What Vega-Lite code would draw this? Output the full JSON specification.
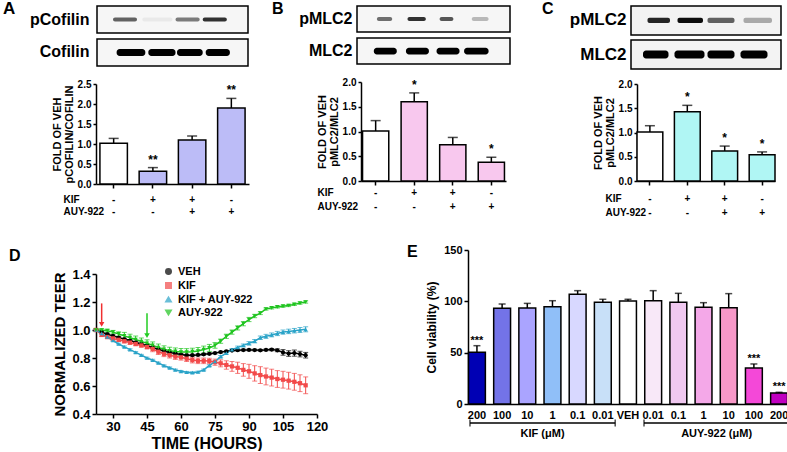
{
"$schema": "https://vega.github.io/schema/vega-lite/v6.json",
"padding": {"left": 3, "top": 0, "right": 0, "bottom": 0},
"background": "white",
"config": {
  "font": "Liberation Sans",
  "view": {"stroke": null},
  "axis": {"labelFontWeight": "bold", "titleFontWeight": "bold", "labelColor": "black", "titleColor": "black", "domainColor": "black", "tickColor": "black", "grid": false, "domainWidth": 1.5, "tickWidth": 1.5, "labelOverlap": false},
  "title": {"fontWeight": "bold", "color": "black", "anchor": "start", "frame": "group", "offset": 0, "fontSize": 16},
  "text": {"font": "Liberation Sans", "fontWeight": "bold", "color": "black"},
  "legend": {"labelFontSize": 11, "labelFontWeight": "bold", "labelColor": "black", "symbolSize": 30, "rowPadding": 1, "labelOffset": 4}
},
"resolve": {"scale": {"fill": "independent", "color": "independent", "shape": "independent"}, "legend": {"color": "independent", "shape": "independent", "fill": "independent"}},
"spacing": 27,
"vconcat": [
 {"spacing": 23,
  "resolve": {"scale": {"fill": "independent", "color": "independent", "shape": "independent"}, "legend": {"color": "independent", "shape": "independent", "fill": "independent"}},
  "hconcat": [
  {"vconcat": [
    {"width": 151, "height": 60,
     "title": {"text": "A", "dx": -94, "dy": 17, "fontSize": 17},
     "data": {"values": [
       {"protein": "pCofilin", "kind": "p", "from": 10.6, "to": 26.5, "intensity": 0.6},
       {"protein": "pCofilin", "kind": "p", "from": 30, "to": 50, "intensity": 0.05},
       {"protein": "pCofilin", "kind": "p", "from": 52, "to": 68, "intensity": 0.5},
       {"protein": "pCofilin", "kind": "p", "from": 70, "to": 86, "intensity": 0.8},
       {"protein": "Cofilin", "kind": "t", "from": 13, "to": 32, "intensity": 1},
       {"protein": "Cofilin", "kind": "t", "from": 34, "to": 52, "intensity": 1},
       {"protein": "Cofilin", "kind": "t", "from": 53, "to": 70, "intensity": 1},
       {"protein": "Cofilin", "kind": "t", "from": 72, "to": 88, "intensity": 1}
     ]},
     "encoding": {"y": {"field": "protein", "type": "nominal", "sort": ["pCofilin", "Cofilin"], "scale": {"paddingInner": 0.18, "paddingOuter": 0}, "axis": {"title": null, "domain": false, "ticks": false, "labelFontSize": 16, "labelPadding": 8}}},
     "layer": [
       {"data": {"values": [{"protein": "pCofilin"}, {"protein": "Cofilin"}]},
        "mark": {"type": "bar", "fill": "#f6f6f6", "stroke": "black", "strokeWidth": 1.5},
        "encoding": {
          "x": {"datum": 0, "type": "quantitative", "scale": {"domain": [0, 100], "nice": false}, "axis": null},
          "x2": {"datum": 100}}},
       {"transform": [{"filter": "datum.kind == 'p'"}],
        "mark": {"type": "bar", "color": "black", "height": {"band": 0.15}, "cornerRadius": 2},
        "encoding": {"x": {"field": "from", "type": "quantitative", "axis": null}, "x2": {"field": "to"}, "opacity": {"field": "intensity", "type": "quantitative", "scale": null}}},
       {"transform": [{"filter": "datum.kind == 't'"}],
        "mark": {"type": "bar", "color": "black", "height": {"band": 0.26}, "cornerRadius": 3},
        "encoding": {"x": {"field": "from", "type": "quantitative", "axis": null}, "x2": {"field": "to"}, "opacity": {"field": "intensity", "type": "quantitative", "scale": null}}}
     ]},
    {"width": 153, "height": 100,
     "data": {"values": [
       {"grp": "VEH", "v": 1.02, "hi": 1.14, "sig": ""},
       {"grp": "KIF", "v": 0.32, "hi": 0.41, "sig": "**"},
       {"grp": "KIF + AUY-922", "v": 1.1, "hi": 1.2, "sig": ""},
       {"grp": "AUY-922", "v": 1.9, "hi": 2.14, "sig": "**"}
     ]},
     "encoding": {"x": {"field": "grp", "type": "nominal", "sort": null, "scale": {"paddingInner": 0.3, "paddingOuter": 0.1},
        "axis": {"title": ["KIF", "AUY-922"], "titleFontSize": 10, "titleLineHeight": 12, "titleAlign": "left", "titleBaseline": "top", "titleX": -33, "titleY": 10,
                 "labelExpr": "datum.value == 'VEH' ? ['-', '-'] : datum.value == 'KIF' ? ['+', '-'] : datum.value == 'KIF + AUY-922' ? ['+', '+'] : ['-', '+']",
                 "labelAngle": 0, "labelFontSize": 10, "labelLineHeight": 12, "labelBaseline": "top", "labelPadding": 6, "tickSize": 4}},
        "y": {"field": "v", "type": "quantitative", "scale": {"domain": [0, 2.5]}, "axis": {"values": [0, 0.5, 1, 1.5, 2, 2.5], "format": ".1f", "labelFontSize": 10, "tickSize": 3, "labelPadding": 2, "title": ["FOLD OF VEH", "pCOFILIN/COFILIN"], "titleFontSize": 11, "titleLineHeight": 12, "titlePadding": 3}}},
     "layer": [
       {"mark": {"type": "bar", "stroke": "black", "strokeWidth": 1.5},
        "encoding": {"fill": {"field": "grp", "type": "nominal", "sort": null, "scale": {"range": ["#ffffff", "#bcbcf7", "#bcbcf7", "#bcbcf7"]}, "legend": null}}},
       {"mark": {"type": "rule", "strokeWidth": 1.5, "color": "black"}, "encoding": {"y2": {"field": "hi"}}},
       {"mark": {"type": "tick", "color": "black", "thickness": 1.5, "size": 10, "orient": "horizontal"}, "encoding": {"y": {"field": "hi", "type": "quantitative", "axis": {"values": [0, 0.5, 1, 1.5, 2, 2.5], "format": ".1f", "labelFontSize": 10, "tickSize": 3, "labelPadding": 2, "title": ["FOLD OF VEH", "pCOFILIN/COFILIN"], "titleFontSize": 11, "titleLineHeight": 12, "titlePadding": 3}}}},
       {"mark": {"type": "text", "fontSize": 12, "dy": -4, "baseline": "alphabetic"}, "encoding": {"y": {"field": "hi", "type": "quantitative", "axis": {"values": [0, 0.5, 1, 1.5, 2, 2.5], "format": ".1f", "labelFontSize": 10, "tickSize": 3, "labelPadding": 2, "title": ["FOLD OF VEH", "pCOFILIN/COFILIN"], "titleFontSize": 11, "titleLineHeight": 12, "titlePadding": 3}}, "text": {"field": "sig"}}}
     ]}
  ], "spacing": 18, "bounds": "flush", "center": true,
     "resolve": {"scale": {"fill": "independent"}}},
  {"spacing": 31,
   "resolve": {"scale": {"fill": "independent"}, "legend": {"fill": "independent"}},
   "hconcat": [
   {"vconcat": [
    {"width": 153, "height": 58,
     "title": {"text": "B", "dx": -85, "dy": 16},
     "data": {"values": [
       {"protein": "pMLC2", "kind": "p", "from": 13, "to": 23, "intensity": 0.55},
       {"protein": "pMLC2", "kind": "p", "from": 33, "to": 45, "intensity": 0.8},
       {"protein": "pMLC2", "kind": "p", "from": 54, "to": 63, "intensity": 0.65},
       {"protein": "pMLC2", "kind": "p", "from": 75, "to": 86, "intensity": 0.25},
       {"protein": "MLC2", "kind": "t", "from": 11, "to": 26, "intensity": 1},
       {"protein": "MLC2", "kind": "t", "from": 32, "to": 47, "intensity": 1},
       {"protein": "MLC2", "kind": "t", "from": 52, "to": 67, "intensity": 1},
       {"protein": "MLC2", "kind": "t", "from": 70, "to": 86, "intensity": 1}
     ]},
     "encoding": {"y": {"field": "protein", "type": "nominal", "sort": ["pMLC2", "MLC2"], "scale": {"paddingInner": 0.19, "paddingOuter": 0}, "axis": {"title": null, "domain": false, "ticks": false, "labelFontSize": 16, "labelPadding": 5}}},
     "layer": [
       {"data": {"values": [{"protein": "pMLC2"}, {"protein": "MLC2"}]},
        "mark": {"type": "bar", "fill": "#f6f6f6", "stroke": "black", "strokeWidth": 1.5},
        "encoding": {
          "x": {"datum": 0, "type": "quantitative", "scale": {"domain": [0, 100], "nice": false}, "axis": null},
          "x2": {"datum": 100}}},
       {"transform": [{"filter": "datum.kind == 'p'"}],
        "mark": {"type": "bar", "color": "black", "height": {"band": 0.15}, "cornerRadius": 2},
        "encoding": {"x": {"field": "from", "type": "quantitative", "axis": null}, "x2": {"field": "to"}, "opacity": {"field": "intensity", "type": "quantitative", "scale": null}}},
       {"transform": [{"filter": "datum.kind == 't'"}],
        "mark": {"type": "bar", "color": "black", "height": {"band": 0.26}, "cornerRadius": 3},
        "encoding": {"x": {"field": "from", "type": "quantitative", "axis": null}, "x2": {"field": "to"}, "opacity": {"field": "intensity", "type": "quantitative", "scale": null}}}
     ]},
    {"width": 145, "height": 99,
     "data": {"values": [
       {"grp": "VEH", "v": 1.01, "hi": 1.22, "sig": ""},
       {"grp": "KIF", "v": 1.6, "hi": 1.78, "sig": "*"},
       {"grp": "KIF + AUY-922", "v": 0.73, "hi": 0.88, "sig": ""},
       {"grp": "AUY-922", "v": 0.38, "hi": 0.48, "sig": "*"}
     ]},
     "encoding": {"x": {"field": "grp", "type": "nominal", "sort": null, "scale": {"paddingInner": 0.32, "paddingOuter": 0.04},
        "axis": {"title": ["KIF", "AUY-922"], "titleFontSize": 10, "titleLineHeight": 14, "titleAlign": "left", "titleBaseline": "top", "titleX": -44, "titleY": 6,
                 "labelExpr": "datum.value == 'VEH' ? ['-', '-'] : datum.value == 'KIF' ? ['+', '-'] : datum.value == 'KIF + AUY-922' ? ['+', '+'] : ['-', '+']",
                 "labelAngle": 0, "labelFontSize": 10, "labelLineHeight": 14, "labelBaseline": "top", "labelPadding": 2, "tickSize": 4}},
        "y": {"field": "v", "type": "quantitative", "scale": {"domain": [0, 2]}, "axis": {"values": [0, 0.5, 1, 1.5, 2], "format": ".1f", "labelFontSize": 10, "tickSize": 3, "labelPadding": 2, "title": ["FOLD OF VEH", "pMLC2/MLC2"], "titleFontSize": 11, "titleLineHeight": 12, "titlePadding": 3}}},
     "layer": [
       {"mark": {"type": "bar", "stroke": "black", "strokeWidth": 1.5},
        "encoding": {"fill": {"field": "grp", "type": "nominal", "sort": null, "scale": {"range": ["#ffffff", "#f8c8ee", "#f8c8ee", "#f8c8ee"]}, "legend": null}}},
       {"mark": {"type": "rule", "strokeWidth": 1.5, "color": "black"}, "encoding": {"y2": {"field": "hi"}}},
       {"mark": {"type": "tick", "color": "black", "thickness": 1.5, "size": 10, "orient": "horizontal"}, "encoding": {"y": {"field": "hi", "type": "quantitative", "axis": {"values": [0, 0.5, 1, 1.5, 2], "format": ".1f", "labelFontSize": 10, "tickSize": 3, "labelPadding": 2, "title": ["FOLD OF VEH", "pMLC2/MLC2"], "titleFontSize": 11, "titleLineHeight": 12, "titlePadding": 3}}}},
       {"mark": {"type": "text", "fontSize": 12, "dy": -4, "baseline": "alphabetic"}, "encoding": {"y": {"field": "hi", "type": "quantitative", "axis": {"values": [0, 0.5, 1, 1.5, 2], "format": ".1f", "labelFontSize": 10, "tickSize": 3, "labelPadding": 2, "title": ["FOLD OF VEH", "pMLC2/MLC2"], "titleFontSize": 11, "titleLineHeight": 12, "titlePadding": 3}}, "text": {"field": "sig"}}}
     ]}
   ], "spacing": 18, "bounds": "flush", "center": true,
      "resolve": {"scale": {"fill": "independent"}}},
   {"vconcat": [
    {"width": 150, "height": 63,
     "title": {"text": "C", "dx": -89, "dy": 16},
     "data": {"values": [
       {"protein": "pMLC2", "kind": "p", "from": 11, "to": 26, "intensity": 0.85},
       {"protein": "pMLC2", "kind": "p", "from": 31, "to": 48, "intensity": 0.95},
       {"protein": "pMLC2", "kind": "p", "from": 51, "to": 69, "intensity": 0.6},
       {"protein": "pMLC2", "kind": "p", "from": 75, "to": 94, "intensity": 0.3},
       {"protein": "MLC2", "kind": "t", "from": 8, "to": 25, "intensity": 1},
       {"protein": "MLC2", "kind": "t", "from": 29, "to": 49, "intensity": 1},
       {"protein": "MLC2", "kind": "t", "from": 51, "to": 69, "intensity": 1},
       {"protein": "MLC2", "kind": "t", "from": 73, "to": 91, "intensity": 1}
     ]},
     "encoding": {"y": {"field": "protein", "type": "nominal", "sort": ["pMLC2", "MLC2"], "scale": {"paddingInner": 0.15, "paddingOuter": 0}, "axis": {"title": null, "domain": false, "ticks": false, "labelFontSize": 17, "labelPadding": 5}}},
     "layer": [
       {"data": {"values": [{"protein": "pMLC2"}, {"protein": "MLC2"}]},
        "mark": {"type": "bar", "fill": "#f3f3f3", "stroke": "black", "strokeWidth": 1.5},
        "encoding": {
          "x": {"datum": 0, "type": "quantitative", "scale": {"domain": [0, 100], "nice": false}, "axis": null},
          "x2": {"datum": 100}}},
       {"transform": [{"filter": "datum.kind == 'p'"}],
        "mark": {"type": "bar", "color": "black", "height": {"band": 0.18}, "cornerRadius": 2},
        "encoding": {"x": {"field": "from", "type": "quantitative", "axis": null}, "x2": {"field": "to"}, "opacity": {"field": "intensity", "type": "quantitative", "scale": null}}},
       {"transform": [{"filter": "datum.kind == 't'"}],
        "mark": {"type": "bar", "color": "black", "height": {"band": 0.27}, "cornerRadius": 3},
        "encoding": {"x": {"field": "from", "type": "quantitative", "axis": null}, "x2": {"field": "to"}, "opacity": {"field": "intensity", "type": "quantitative", "scale": null}}}
     ]},
    {"width": 138, "height": 97,
     "data": {"values": [
       {"grp": "VEH", "v": 1.01, "hi": 1.14, "sig": ""},
       {"grp": "KIF", "v": 1.43, "hi": 1.56, "sig": "*"},
       {"grp": "KIF + AUY-922", "v": 0.62, "hi": 0.72, "sig": "*"},
       {"grp": "AUY-922", "v": 0.54, "hi": 0.6, "sig": "*"}
     ]},
     "encoding": {"x": {"field": "grp", "type": "nominal", "sort": null, "scale": {"paddingInner": 0.31, "paddingOuter": 0},
        "axis": {"title": ["KIF", "AUY-922"], "titleFontSize": 10, "titleLineHeight": 14, "titleAlign": "left", "titleBaseline": "top", "titleX": -32, "titleY": 12,
                 "labelExpr": "datum.value == 'VEH' ? ['-', '-'] : datum.value == 'KIF' ? ['+', '-'] : datum.value == 'KIF + AUY-922' ? ['+', '+'] : ['-', '+']",
                 "labelAngle": 0, "labelFontSize": 10, "labelLineHeight": 14, "labelBaseline": "top", "labelPadding": 8, "tickSize": 4}},
        "y": {"field": "v", "type": "quantitative", "scale": {"domain": [0, 2]}, "axis": {"values": [0, 0.5, 1, 1.5, 2], "format": ".1f", "labelFontSize": 10, "tickSize": 3, "labelPadding": 2, "title": ["FOLD OF VEH", "pMLC2/MLC2"], "titleFontSize": 11, "titleLineHeight": 12, "titlePadding": 3}}},
     "layer": [
       {"mark": {"type": "bar", "stroke": "black", "strokeWidth": 1.5},
        "encoding": {"fill": {"field": "grp", "type": "nominal", "sort": null, "scale": {"range": ["#ffffff", "#b0f6f4", "#b0f6f4", "#b0f6f4"]}, "legend": null}}},
       {"mark": {"type": "rule", "strokeWidth": 1.5, "color": "black"}, "encoding": {"y2": {"field": "hi"}}},
       {"mark": {"type": "tick", "color": "black", "thickness": 1.5, "size": 10, "orient": "horizontal"}, "encoding": {"y": {"field": "hi", "type": "quantitative", "axis": {"values": [0, 0.5, 1, 1.5, 2], "format": ".1f", "labelFontSize": 10, "tickSize": 3, "labelPadding": 2, "title": ["FOLD OF VEH", "pMLC2/MLC2"], "titleFontSize": 11, "titleLineHeight": 12, "titlePadding": 3}}}},
       {"mark": {"type": "text", "fontSize": 12, "dy": -4, "baseline": "alphabetic"}, "encoding": {"y": {"field": "hi", "type": "quantitative", "axis": {"values": [0, 0.5, 1, 1.5, 2], "format": ".1f", "labelFontSize": 10, "tickSize": 3, "labelPadding": 2, "title": ["FOLD OF VEH", "pMLC2/MLC2"], "titleFontSize": 11, "titleLineHeight": 12, "titlePadding": 3}}, "text": {"field": "sig"}}}
     ]}
   ], "spacing": 15, "bounds": "flush", "center": true,
      "resolve": {"scale": {"fill": "independent"}}}
  ]}
 ]},
 {"spacing": 79,
  "resolve": {"scale": {"fill": "independent", "color": "independent", "shape": "independent"}, "legend": {"color": "independent", "shape": "independent", "fill": "independent"}},
  "hconcat": [
  {"vconcat": [
   {"width": 221, "height": 1, "data": {"values": []}, "mark": "point", "encoding": {}},
   {"width": 221, "height": 140,
   "title": {"text": "D", "dx": -87, "dy": 2},
   "encoding": {"x": {"field": "t", "type": "quantitative", "scale": {"domain": [22.5, 120], "nice": false, "zero": false},
      "axis": {"values": [30, 45, 60, 75, 90, 105, 120], "labelFlush": false, "title": "TIME (HOURS)", "titleFontSize": 16, "labelFontSize": 13, "tickSize": 4, "labelPadding": 2, "titlePadding": 2}}},
   "layer": [
    {"data": {"values": [
{"s":"VEH","t":22.5,"v":1.0,"e":0.006},{"s":"VEH","t":25,"v":0.985,"e":0.006},{"s":"VEH","t":27.5,"v":0.97,"e":0.006},{"s":"VEH","t":30,"v":0.958,"e":0.006},{"s":"VEH","t":32.5,"v":0.946,"e":0.006},{"s":"VEH","t":35,"v":0.935,"e":0.006},{"s":"VEH","t":37.5,"v":0.925,"e":0.006},{"s":"VEH","t":40,"v":0.912,"e":0.006},{"s":"VEH","t":42.5,"v":0.9,"e":0.006},{"s":"VEH","t":45,"v":0.888,"e":0.006},{"s":"VEH","t":47.5,"v":0.875,"e":0.006},{"s":"VEH","t":50,"v":0.862,"e":0.006},{"s":"VEH","t":52.5,"v":0.85,"e":0.006},{"s":"VEH","t":55,"v":0.84,"e":0.006},{"s":"VEH","t":57.5,"v":0.832,"e":0.006},{"s":"VEH","t":60,"v":0.825,"e":0.006},{"s":"VEH","t":62.5,"v":0.82,"e":0.006},{"s":"VEH","t":65,"v":0.82,"e":0.006},{"s":"VEH","t":67.5,"v":0.822,"e":0.006},{"s":"VEH","t":70,"v":0.826,"e":0.006},{"s":"VEH","t":72.5,"v":0.83,"e":0.006},{"s":"VEH","t":75,"v":0.835,"e":0.006},{"s":"VEH","t":77.5,"v":0.842,"e":0.006},{"s":"VEH","t":80,"v":0.848,"e":0.006},{"s":"VEH","t":82.5,"v":0.853,"e":0.006},{"s":"VEH","t":85,"v":0.856,"e":0.006},{"s":"VEH","t":87.5,"v":0.857,"e":0.006},{"s":"VEH","t":90,"v":0.858,"e":0.006},{"s":"VEH","t":92.5,"v":0.857,"e":0.006},{"s":"VEH","t":95,"v":0.855,"e":0.006},{"s":"VEH","t":97.5,"v":0.858,"e":0.006},{"s":"VEH","t":100,"v":0.86,"e":0.008},{"s":"VEH","t":102.5,"v":0.855,"e":0.01},{"s":"VEH","t":105,"v":0.84,"e":0.02},{"s":"VEH","t":107.5,"v":0.832,"e":0.02},{"s":"VEH","t":110,"v":0.835,"e":0.022},{"s":"VEH","t":112.5,"v":0.828,"e":0.02},{"s":"VEH","t":115,"v":0.82,"e":0.02},
{"s":"KIF","t":22.5,"v":1.0,"e":0.012},{"s":"KIF","t":25,"v":0.965,"e":0.012},{"s":"KIF","t":27.5,"v":0.95,"e":0.012},{"s":"KIF","t":30,"v":0.94,"e":0.012},{"s":"KIF","t":32.5,"v":0.93,"e":0.012},{"s":"KIF","t":35,"v":0.92,"e":0.012},{"s":"KIF","t":37.5,"v":0.91,"e":0.012},{"s":"KIF","t":40,"v":0.9,"e":0.012},{"s":"KIF","t":42.5,"v":0.89,"e":0.012},{"s":"KIF","t":45,"v":0.878,"e":0.012},{"s":"KIF","t":47.5,"v":0.865,"e":0.02},{"s":"KIF","t":50,"v":0.845,"e":0.02},{"s":"KIF","t":52.5,"v":0.83,"e":0.02},{"s":"KIF","t":55,"v":0.82,"e":0.02},{"s":"KIF","t":57.5,"v":0.81,"e":0.02},{"s":"KIF","t":60,"v":0.805,"e":0.02},{"s":"KIF","t":62.5,"v":0.795,"e":0.02},{"s":"KIF","t":65,"v":0.785,"e":0.02},{"s":"KIF","t":67.5,"v":0.78,"e":0.02},{"s":"KIF","t":70,"v":0.78,"e":0.02},{"s":"KIF","t":72.5,"v":0.778,"e":0.02},{"s":"KIF","t":75,"v":0.77,"e":0.022},{"s":"KIF","t":77.5,"v":0.762,"e":0.025},{"s":"KIF","t":80,"v":0.75,"e":0.03},{"s":"KIF","t":82.5,"v":0.74,"e":0.035},{"s":"KIF","t":85,"v":0.73,"e":0.04},{"s":"KIF","t":87.5,"v":0.715,"e":0.045},{"s":"KIF","t":90,"v":0.705,"e":0.05},{"s":"KIF","t":92.5,"v":0.69,"e":0.055},{"s":"KIF","t":95,"v":0.678,"e":0.06},{"s":"KIF","t":97.5,"v":0.668,"e":0.06},{"s":"KIF","t":100,"v":0.66,"e":0.06},{"s":"KIF","t":102.5,"v":0.65,"e":0.06},{"s":"KIF","t":105,"v":0.645,"e":0.06},{"s":"KIF","t":107.5,"v":0.638,"e":0.06},{"s":"KIF","t":110,"v":0.63,"e":0.06},{"s":"KIF","t":112.5,"v":0.62,"e":0.06},{"s":"KIF","t":115,"v":0.605,"e":0.06},
{"s":"KIF + AUY-922","t":22.5,"v":1.0,"e":0.006},{"s":"KIF + AUY-922","t":25,"v":0.975,"e":0.006},{"s":"KIF + AUY-922","t":27.5,"v":0.95,"e":0.006},{"s":"KIF + AUY-922","t":30,"v":0.925,"e":0.006},{"s":"KIF + AUY-922","t":32.5,"v":0.9,"e":0.006},{"s":"KIF + AUY-922","t":35,"v":0.88,"e":0.006},{"s":"KIF + AUY-922","t":37.5,"v":0.86,"e":0.006},{"s":"KIF + AUY-922","t":40,"v":0.84,"e":0.006},{"s":"KIF + AUY-922","t":42.5,"v":0.82,"e":0.006},{"s":"KIF + AUY-922","t":45,"v":0.8,"e":0.006},{"s":"KIF + AUY-922","t":47.5,"v":0.785,"e":0.006},{"s":"KIF + AUY-922","t":50,"v":0.765,"e":0.006},{"s":"KIF + AUY-922","t":52.5,"v":0.745,"e":0.006},{"s":"KIF + AUY-922","t":55,"v":0.73,"e":0.006},{"s":"KIF + AUY-922","t":57.5,"v":0.715,"e":0.006},{"s":"KIF + AUY-922","t":60,"v":0.705,"e":0.006},{"s":"KIF + AUY-922","t":62.5,"v":0.698,"e":0.006},{"s":"KIF + AUY-922","t":65,"v":0.695,"e":0.006},{"s":"KIF + AUY-922","t":67.5,"v":0.7,"e":0.006},{"s":"KIF + AUY-922","t":70,"v":0.715,"e":0.006},{"s":"KIF + AUY-922","t":72.5,"v":0.745,"e":0.006},{"s":"KIF + AUY-922","t":75,"v":0.775,"e":0.006},{"s":"KIF + AUY-922","t":77.5,"v":0.81,"e":0.008},{"s":"KIF + AUY-922","t":80,"v":0.835,"e":0.008},{"s":"KIF + AUY-922","t":82.5,"v":0.86,"e":0.008},{"s":"KIF + AUY-922","t":85,"v":0.875,"e":0.01},{"s":"KIF + AUY-922","t":87.5,"v":0.89,"e":0.01},{"s":"KIF + AUY-922","t":90,"v":0.905,"e":0.012},{"s":"KIF + AUY-922","t":92.5,"v":0.92,"e":0.012},{"s":"KIF + AUY-922","t":95,"v":0.945,"e":0.012},{"s":"KIF + AUY-922","t":97.5,"v":0.955,"e":0.014},{"s":"KIF + AUY-922","t":100,"v":0.965,"e":0.014},{"s":"KIF + AUY-922","t":102.5,"v":0.975,"e":0.015},{"s":"KIF + AUY-922","t":105,"v":0.985,"e":0.015},{"s":"KIF + AUY-922","t":107.5,"v":0.99,"e":0.016},{"s":"KIF + AUY-922","t":110,"v":0.995,"e":0.016},{"s":"KIF + AUY-922","t":112.5,"v":1.0,"e":0.018},{"s":"KIF + AUY-922","t":115,"v":1.005,"e":0.018},
{"s":"AUY-922","t":22.5,"v":1.0,"e":0.01},{"s":"AUY-922","t":25,"v":1.0,"e":0.01},{"s":"AUY-922","t":27.5,"v":0.995,"e":0.01},{"s":"AUY-922","t":30,"v":0.985,"e":0.012},{"s":"AUY-922","t":32.5,"v":0.972,"e":0.015},{"s":"AUY-922","t":35,"v":0.958,"e":0.025},{"s":"AUY-922","t":37.5,"v":0.945,"e":0.025},{"s":"AUY-922","t":40,"v":0.932,"e":0.025},{"s":"AUY-922","t":42.5,"v":0.918,"e":0.025},{"s":"AUY-922","t":45,"v":0.905,"e":0.025},{"s":"AUY-922","t":47.5,"v":0.89,"e":0.025},{"s":"AUY-922","t":50,"v":0.875,"e":0.025},{"s":"AUY-922","t":52.5,"v":0.862,"e":0.025},{"s":"AUY-922","t":55,"v":0.852,"e":0.025},{"s":"AUY-922","t":57.5,"v":0.847,"e":0.025},{"s":"AUY-922","t":60,"v":0.843,"e":0.025},{"s":"AUY-922","t":62.5,"v":0.842,"e":0.025},{"s":"AUY-922","t":65,"v":0.845,"e":0.025},{"s":"AUY-922","t":67.5,"v":0.85,"e":0.025},{"s":"AUY-922","t":70,"v":0.86,"e":0.025},{"s":"AUY-922","t":72.5,"v":0.872,"e":0.025},{"s":"AUY-922","t":75,"v":0.89,"e":0.02},{"s":"AUY-922","t":77.5,"v":0.92,"e":0.015},{"s":"AUY-922","t":80,"v":0.955,"e":0.015},{"s":"AUY-922","t":82.5,"v":0.985,"e":0.015},{"s":"AUY-922","t":85,"v":1.015,"e":0.015},{"s":"AUY-922","t":87.5,"v":1.045,"e":0.015},{"s":"AUY-922","t":90,"v":1.075,"e":0.015},{"s":"AUY-922","t":92.5,"v":1.1,"e":0.012},{"s":"AUY-922","t":95,"v":1.12,"e":0.01},{"s":"AUY-922","t":97.5,"v":1.15,"e":0.008},{"s":"AUY-922","t":100,"v":1.158,"e":0.008},{"s":"AUY-922","t":102.5,"v":1.165,"e":0.008},{"s":"AUY-922","t":105,"v":1.17,"e":0.008},{"s":"AUY-922","t":107.5,"v":1.175,"e":0.008},{"s":"AUY-922","t":110,"v":1.183,"e":0.008},{"s":"AUY-922","t":112.5,"v":1.192,"e":0.008},{"s":"AUY-922","t":115,"v":1.2,"e":0.008}
     ]},
     "encoding": {
       "y": {"field": "v", "type": "quantitative", "scale": {"domain": [0.4, 1.4], "zero": false, "nice": false},
          "axis": {"values": [0.4, 0.6, 0.8, 1.0, 1.2, 1.4], "format": ".1f", "labelFlush": false, "labelFontSize": 13, "tickSize": 4, "labelPadding": 2, "title": "NORMALIZED TEER", "titleFontSize": 15, "titlePadding": 4}},
       "color": {"field": "s", "type": "nominal", "title": null, "scale": {"domain": ["VEH", "KIF", "KIF + AUY-922", "AUY-922"], "range": ["#000000", "#f24a4a", "#2aa3c8", "#1fc41f"]},
                 "legend": {"orient": "none", "legendX": 67, "legendY": -8, "symbolType": "circle"}}
     },
     "layer": [
       {"mark": {"type": "errorbar", "ticks": true, "thickness": 1}, "encoding": {"yError": {"field": "e"}}},
       {"mark": {"type": "line", "strokeWidth": 1.5}},
       {"mark": {"type": "point", "filled": true, "size": 18, "opacity": 1},
        "encoding": {"shape": {"field": "s", "type": "nominal", "title": null, "scale": {"domain": ["VEH", "KIF", "KIF + AUY-922", "AUY-922"], "range": ["circle", "square", "triangle-up", "triangle-down"]}, "legend": {"orient": "none", "legendX": 67, "legendY": -8}}}}
     ]},
    {"data": {"values": [{"t": 25, "y1": 1.19, "y2": 1.05}]},
     "mark": {"type": "rule", "color": "#f03030", "strokeWidth": 1.5},
     "encoding": {"y": {"field": "y1", "type": "quantitative", "axis": {"values": [0.4, 0.6, 0.8, 1.0, 1.2, 1.4], "format": ".1f", "labelFlush": false, "labelFontSize": 13, "tickSize": 4, "labelPadding": 2, "title": "NORMALIZED TEER", "titleFontSize": 15, "titlePadding": 4}}, "y2": {"field": "y2"}}},
    {"data": {"values": [{"t": 25, "tip": 1.04}]},
     "mark": {"type": "point", "shape": "triangle-down", "filled": true, "size": 30, "color": "#f03030", "opacity": 1},
     "encoding": {"y": {"field": "tip", "type": "quantitative", "axis": {"values": [0.4, 0.6, 0.8, 1.0, 1.2, 1.4], "format": ".1f", "labelFlush": false, "labelFontSize": 13, "tickSize": 4, "labelPadding": 2, "title": "NORMALIZED TEER", "titleFontSize": 15, "titlePadding": 4}}}},
    {"data": {"values": [{"t": 45, "y1": 1.12, "y2": 0.97}]},
     "mark": {"type": "rule", "color": "#22cc22", "strokeWidth": 1.5},
     "encoding": {"y": {"field": "y1", "type": "quantitative", "axis": {"values": [0.4, 0.6, 0.8, 1.0, 1.2, 1.4], "format": ".1f", "labelFlush": false, "labelFontSize": 13, "tickSize": 4, "labelPadding": 2, "title": "NORMALIZED TEER", "titleFontSize": 15, "titlePadding": 4}}, "y2": {"field": "y2"}}},
    {"data": {"values": [{"t": 45, "tip": 0.96}]},
     "mark": {"type": "point", "shape": "triangle-down", "filled": true, "size": 30, "color": "#22cc22", "opacity": 1},
     "encoding": {"y": {"field": "tip", "type": "quantitative", "axis": {"values": [0.4, 0.6, 0.8, 1.0, 1.2, 1.4], "format": ".1f", "labelFlush": false, "labelFontSize": 13, "tickSize": 4, "labelPadding": 2, "title": "NORMALIZED TEER", "titleFontSize": 15, "titlePadding": 4}}}}
   ]}
  ], "spacing": 23, "bounds": "flush",
     "resolve": {"scale": {"color": "independent", "shape": "independent"}, "legend": {"color": "independent", "shape": "independent"}}},
  {"vconcat": [
    {"width": 320, "height": 154,
     "title": {"text": "E", "dx": -61, "dy": 20},
     "data": {"values": [
       {"id": "K200", "v": 50.5, "hi": 56.8, "sig": "***"},
       {"id": "K100", "v": 93.2, "hi": 97.4, "sig": ""},
       {"id": "K10", "v": 93.5, "hi": 98, "sig": ""},
       {"id": "K1", "v": 94.8, "hi": 100.6, "sig": ""},
       {"id": "K0.1", "v": 106.8, "hi": 110.4, "sig": ""},
       {"id": "K0.01", "v": 99, "hi": 102, "sig": ""},
       {"id": "VEH", "v": 100.3, "hi": 102, "sig": ""},
       {"id": "A0.01", "v": 100.6, "hi": 110.4, "sig": ""},
       {"id": "A0.1", "v": 99, "hi": 107.8, "sig": ""},
       {"id": "A1", "v": 94.2, "hi": 98.7, "sig": ""},
       {"id": "A10", "v": 93.8, "hi": 107.5, "sig": ""},
       {"id": "A100", "v": 35, "hi": 39, "sig": "***"},
       {"id": "A200", "v": 10.7, "hi": 11.4, "sig": "***"}
     ]},
     "encoding": {"x": {"field": "id", "type": "nominal", "sort": null, "scale": {"paddingInner": 0.33, "paddingOuter": 0.02},
        "axis": {"title": null, "labelExpr": "datum.value == 'VEH' ? 'VEH' : substring(datum.value, 1)", "labelAngle": 0, "labelFontSize": 11, "ticks": false, "labelPadding": 5}},
        "y": {"field": "v", "type": "quantitative", "scale": {"domain": [0, 150]}, "axis": {"values": [0, 50, 100, 150], "labelFontSize": 11, "tickSize": 4, "labelPadding": 2, "title": "Cell viability (%)", "titleFontSize": 12, "titlePadding": 5}}},
     "layer": [
       {"mark": {"type": "bar", "stroke": "black", "strokeWidth": 1.5},
        "encoding": {"fill": {"field": "id", "type": "nominal", "sort": null, "scale": {"range": ["#0000b4", "#7373e8", "#aaa4ff", "#90bff8", "#d8d8ff", "#c8e0f8", "#ffffff", "#f8e8f8", "#f0c8f0", "#f4a8e8", "#f898c8", "#f448d8", "#c000c0"]}, "legend": null}}},
       {"mark": {"type": "rule", "strokeWidth": 1.5, "color": "black"}, "encoding": {"y2": {"field": "hi"}}},
       {"mark": {"type": "tick", "color": "black", "thickness": 1.5, "size": 7, "orient": "horizontal"}, "encoding": {"y": {"field": "hi", "type": "quantitative", "axis": {"values": [0, 50, 100, 150], "labelFontSize": 11, "tickSize": 4, "labelPadding": 2, "title": "Cell viability (%)", "titleFontSize": 12, "titlePadding": 5}}}},
       {"mark": {"type": "text", "fontSize": 11, "dy": -2, "baseline": "alphabetic"}, "encoding": {"y": {"field": "hi", "type": "quantitative", "axis": {"values": [0, 50, 100, 150], "labelFontSize": 11, "tickSize": 4, "labelPadding": 2, "title": "Cell viability (%)", "titleFontSize": 12, "titlePadding": 5}}, "text": {"field": "sig"}}}
     ]},
    {"width": 320, "height": 10,
     "data": {"values": [
       {"g": "KIF (μM)", "a": 0.08, "b": 5.98, "m": 3.03},
       {"g": "AUY-922 (μM)", "a": 7.15, "b": 13.0, "m": 10.1}
     ]},
     "encoding": {"y": {"datum": 0, "type": "quantitative", "scale": {"domain": [-1, 1]}, "axis": null}},
     "layer": [
       {"mark": {"type": "rule", "strokeWidth": 1.5, "color": "black"},
        "encoding": {"x": {"field": "a", "type": "quantitative", "scale": {"domain": [0, 13], "nice": false, "zero": false}, "axis": null}, "x2": {"field": "b"}}},
       {"mark": {"type": "tick", "orient": "vertical", "size": 7, "thickness": 1.5, "color": "black"}, "encoding": {"x": {"field": "a", "type": "quantitative", "axis": null}}},
       {"mark": {"type": "tick", "orient": "vertical", "size": 7, "thickness": 1.5, "color": "black"}, "encoding": {"x": {"field": "b", "type": "quantitative", "axis": null}}},
       {"mark": {"type": "text", "fontSize": 11, "dy": 11, "baseline": "middle"}, "encoding": {"x": {"field": "m", "type": "quantitative", "axis": null}, "text": {"field": "g"}}}
     ]}
  ], "spacing": 14, "bounds": "flush",
     "resolve": {"scale": {"fill": "independent"}}}
 ]}
]
}
